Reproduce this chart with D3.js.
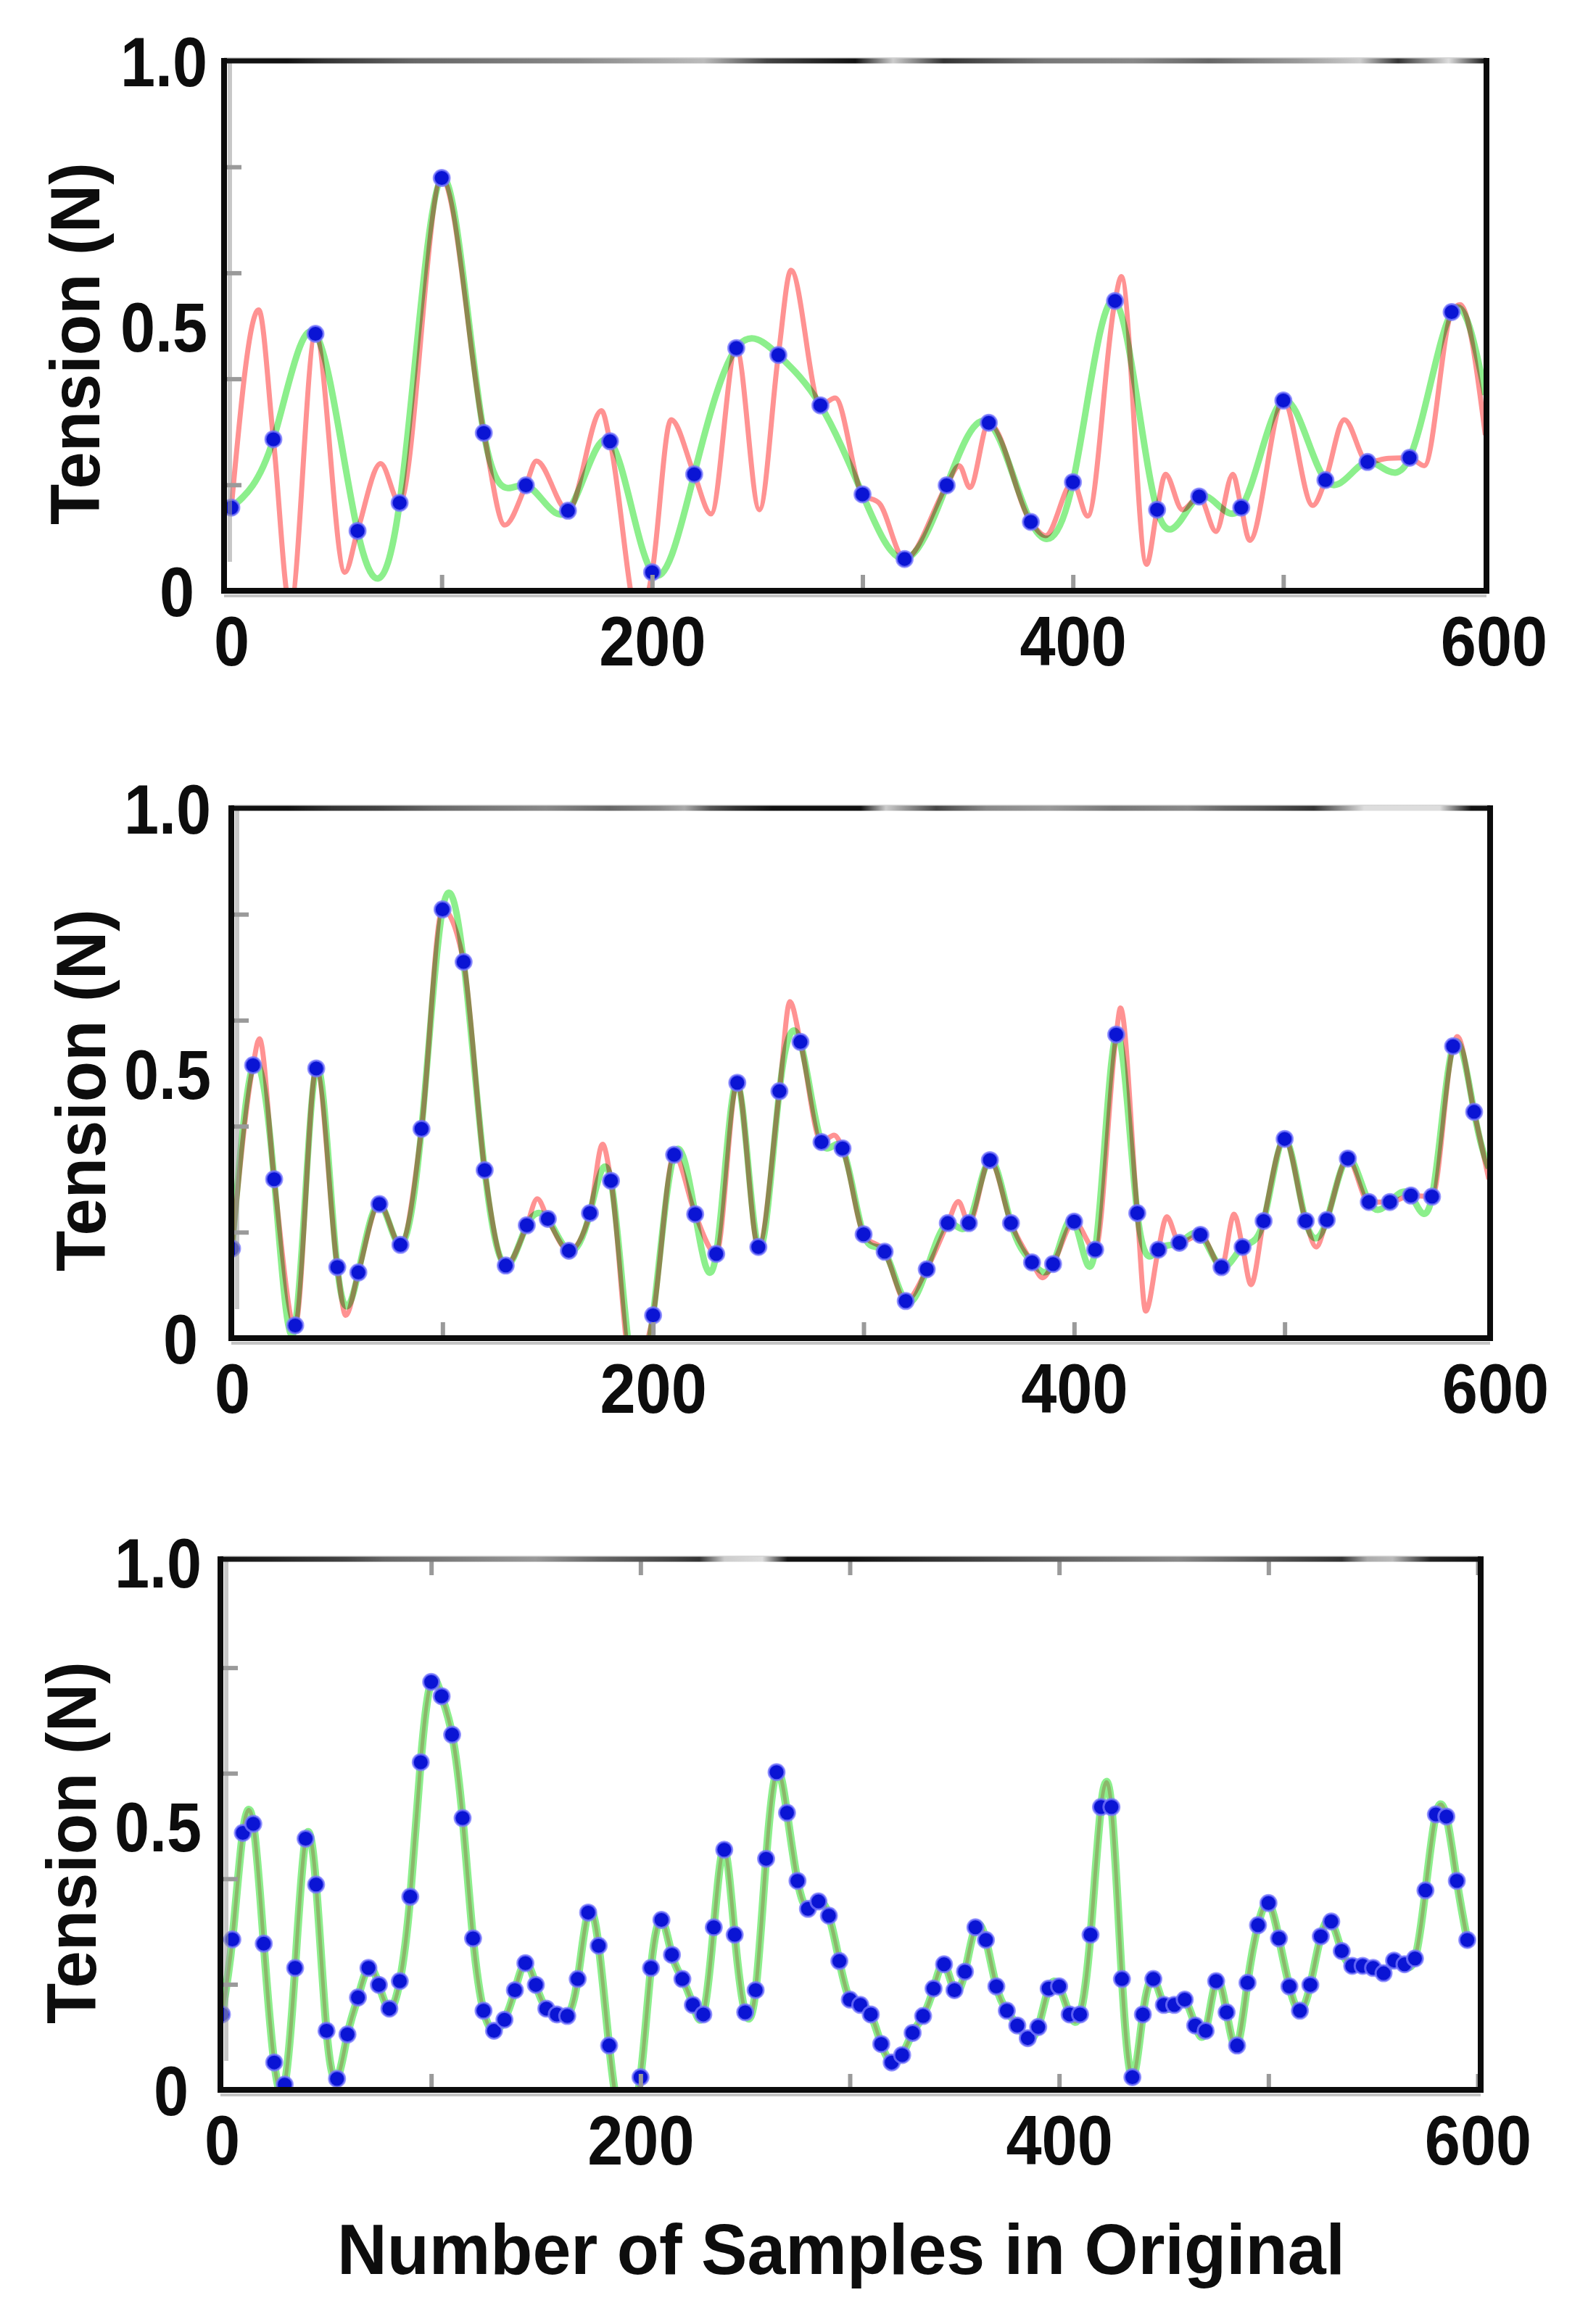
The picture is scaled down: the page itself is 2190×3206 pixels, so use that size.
<!DOCTYPE html>
<html>
<head>
<meta charset="utf-8">
<script src="https://cdn.jsdelivr.net/npm/d3@7"></script>
<style>
  html, body { margin: 0; padding: 0; background: #fff; }
  svg { display: block; }
  text { font-family: "Liberation Sans", Arial, sans-serif; font-weight: bold; fill: #0d0d0d; }
</style>
</head>
<body>
<script>
// tick labels
const xTickLabels = [0, 200, 400, 600];
const yTickLabels = [0, 0.5, 1.0];
const yMinorTicks = [0.2, 0.4, 0.6, 0.8];

// blue samples, one value every 20 / 10 / 5 samples of the original
const samplesEvery20 = [0.157, 0.286, 0.485, 0.113, 0.166, 0.779, 0.298, 0.199, 0.151, 0.282,
  0.035, 0.220, 0.458, 0.445, 0.350, 0.182, 0.060, 0.199, 0.317, 0.130,
  0.205, 0.547, 0.153, 0.178, 0.157, 0.359, 0.209, 0.243, 0.251, 0.526];

const samplesEvery10 = [0.169, 0.515, 0.300, 0.024, 0.509, 0.134, 0.124, 0.253, 0.176, 0.395,
  0.809, 0.710, 0.317, 0.137, 0.213, 0.225, 0.165, 0.236, 0.297, -0.06,
  0.043, 0.346, 0.234, 0.159, 0.482, 0.172, 0.466, 0.559, 0.370, 0.358,
  0.196, 0.163, 0.070, 0.130, 0.217, 0.217, 0.336, 0.217, 0.143, 0.140,
  0.220, 0.167, 0.573, 0.236, 0.167, 0.180, 0.195, 0.134, 0.172, 0.221,
  0.376, 0.221, 0.223, 0.339, 0.257, 0.257, 0.269, 0.267, 0.551, 0.427];

const samplesEvery5 = [0.143, 0.285, 0.487, 0.504, 0.277, 0.052, 0.010, 0.231, 0.476, 0.389,
  0.112, 0.021, 0.105, 0.175, 0.231, 0.199, 0.154, 0.206, 0.366, 0.621,
  0.773, 0.746, 0.673, 0.515, 0.287, 0.150, 0.112, 0.133, 0.189, 0.240,
  0.199, 0.154, 0.143, 0.140, 0.210, 0.336, 0.273, 0.084, -0.05, -0.05,
  0.024, 0.231, 0.322, 0.256, 0.210, 0.161, 0.143, 0.308, 0.455, 0.294,
  0.147, 0.189, 0.438, 0.602, 0.525, 0.396, 0.343, 0.357, 0.330, 0.244,
  0.171, 0.161, 0.143, 0.087, 0.052, 0.066, 0.108, 0.140, 0.192, 0.238,
  0.189, 0.224, 0.308, 0.284, 0.196, 0.150, 0.122, 0.098, 0.119, 0.192,
  0.196, 0.143, 0.143, 0.294, 0.536, 0.536, 0.210, 0.024, 0.143, 0.210,
  0.161, 0.161, 0.171, 0.122, 0.112, 0.206, 0.147, 0.084, 0.203, 0.312,
  0.354, 0.287, 0.196, 0.150, 0.199, 0.291, 0.319, 0.263, 0.235, 0.235,
  0.231, 0.221, 0.245, 0.238, 0.249, 0.378, 0.522, 0.518, 0.396, 0.284];

// red original: peaks and troughs seen between the samples [sample, tension]
const originalPeaks20 = [[13, 0.53], [28, -0.03], [54, 0.035], [71, 0.24], [130, 0.124], [145, 0.245],
  [176, 0.34], [194, -0.06], [209, 0.323], [228, 0.145], [251, 0.153], [266, 0.605], [287, 0.364],
  [308, 0.165], [346, 0.236], [351, 0.195], [387, 0.104], [407, 0.141], [423, 0.593], [435, 0.05],
  [444, 0.22], [452, 0.153], [468, 0.112], [476, 0.22], [484, 0.095], [514, 0.161], [529, 0.323],
  [550, 0.25], [567, 0.236], [584, 0.54], [596, 0.294]];

const originalPeaks10 = [[13, 0.565], [54, 0.043], [145, 0.263], [176, 0.366], [265, 0.635], [286, 0.383],
  [345, 0.258], [385, 0.114], [422, 0.623], [434, 0.051], [444, 0.229], [476, 0.234], [484, 0.101],
  [515, 0.172], [582, 0.569], [597, 0.30]];

// where the green reconstruction meets the right border
const greenEnd20 = [596, 0.37];
const greenEnd10 = [597, 0.321];

// layout of the three stacked panels (pixels)
const panels = [
  { samples: samplesEvery20, step: 20, peaks: originalPeaks20, greenEnd: greenEnd20,
    frame: { left: 309, right: 2050, top: 84, bottom: 815 }, xr: [319, 2060], yr: [815, 84],
    yLabelRight: 286, yTitle: [137, 474], xMinor: [100, 200, 300, 400, 500], topTicks: false,
    topStops: [[0, "#111"], [0.05, "#111"], [0.08, "#333"], [0.15, "#666"], [0.28, "#888"], [0.38, "#bbb"],
      [0.43, "#444"], [0.5, "#111"], [0.53, "#ccc"], [0.57, "#333"], [0.65, "#777"], [0.72, "#888"],
      [0.78, "#666"], [0.85, "#999"], [0.9, "#ccc"], [0.93, "#333"], [0.97, "#ddd"], [1, "#111"]] },
  { samples: samplesEvery10, step: 10, peaks: originalPeaks10, greenEnd: greenEnd10,
    frame: { left: 319, right: 2055, top: 1115, bottom: 1846 }, xr: [320, 2062], yr: [1846, 1115],
    yLabelRight: 291, yTitle: [145, 1504], xMinor: [100, 200, 300, 400, 500], topTicks: false,
    topStops: [[0, "#111"], [0.045, "#111"], [0.08, "#333"], [0.12, "#444"], [0.16, "#666"], [0.2, "#777"],
      [0.25, "#888"], [0.3, "#666"], [0.34, "#888"], [0.36, "#aaa"], [0.38, "#555"], [0.4, "#333"],
      [0.43, "#111"], [0.5, "#111"], [0.52, "#ccc"], [0.56, "#444"], [0.6, "#888"], [0.65, "#999"],
      [0.7, "#777"], [0.76, "#888"], [0.79, "#666"], [0.82, "#555"], [0.86, "#333"], [0.9, "#ddd"],
      [0.96, "#ddd"], [0.985, "#111"], [1, "#111"]] },
  { samples: samplesEvery5, step: 5, peaks: null, greenEnd: null,
    frame: { left: 304, right: 2042, top: 2151, bottom: 2883 }, xr: [306, 2038], yr: [2883, 2155],
    yLabelRight: 278, yTitle: [132, 2542], xMinor: [100, 200, 300, 400, 500, 600], topTicks: true,
    topStops: [[0, "#111"], [0.04, "#222"], [0.1, "#444"], [0.13, "#666"], [0.21, "#888"], [0.25, "#999"],
      [0.3, "#666"], [0.36, "#444"], [0.38, "#333"], [0.4, "#ccc"], [0.43, "#ddd"], [0.45, "#111"],
      [0.5, "#111"], [0.57, "#333"], [0.64, "#555"], [0.72, "#777"], [0.76, "#888"], [0.83, "#555"],
      [0.89, "#333"], [0.91, "#aaa"], [0.93, "#bbb"], [0.96, "#222"], [1, "#111"]] }
];

const W = 2190, H = 3206;
const svg = d3.select("body").append("svg").attr("width", W).attr("height", H);
const defs = svg.append("defs");

function condense(sel, k) {
  sel.each(function () {
    const w = this.getComputedTextLength();
    d3.select(this).attr("textLength", w * k).attr("lengthAdjust", "spacingAndGlyphs");
  });
}

panels.forEach((p, i) => {
  const f = p.frame;
  const x = d3.scaleLinear().domain([0, 600]).range(p.xr);
  const y = d3.scaleLinear().domain([0, 1]).range(p.yr);
  const g = svg.append("g").attr("id", "panel" + (i + 1));

  defs.append("clipPath").attr("id", "clip" + i)
    .append("rect")
    .attr("x", f.left).attr("y", f.top)
    .attr("width", f.right - f.left).attr("height", f.bottom - f.top);

  const pts = p.samples.map((v, k) => [k * p.step, v]);
  const greenPts = p.greenEnd ? pts.concat([p.greenEnd]) : pts;
  const redPts = p.peaks ? pts.concat(p.peaks).sort((a, b) => a[0] - b[0]) : pts;

  const plot = g.append("g").attr("clip-path", `url(#clip${i})`);

  // green reconstruction
  plot.append("path")
    .datum(greenPts)
    .attr("fill", "none")
    .attr("stroke", "#8cef8c")
    .attr("stroke-width", p.peaks ? 9 : 11)
    .attr("d", d3.line().x(d => x(d[0])).y(d => y(d[1])).curve(d3.curveNatural));

  // red original
  plot.append("path")
    .datum(redPts)
    .attr("fill", "none")
    .attr("stroke", "#ff9292")
    .attr("stroke-width", p.peaks ? 7 : 5)
    .attr("stroke-opacity", p.peaks ? 1 : 0.55)
    .style("mix-blend-mode", "multiply")
    .attr("d", d3.line().x(d => x(d[0])).y(d => y(d[1]))
      .curve(p.peaks ? d3.curveMonotoneX : d3.curveNatural));

  // blue samples
  plot.selectAll("circle")
    .data(pts)
    .join("circle")
    .attr("cx", d => x(d[0]))
    .attr("cy", d => y(d[1]))
    .attr("r", 11)
    .attr("fill", "#0a14d4")
    .attr("stroke", "#7b7bff")
    .attr("stroke-opacity", 0.75)
    .attr("stroke-width", 3);

  // minor ticks, grey, pointing inwards
  const styleTicks = sel => {
    sel.select(".domain").remove();
    sel.selectAll("line").attr("stroke", "#9a9a9a").attr("stroke-width", 6);
  };
  g.append("g").attr("transform", `translate(0,${f.bottom})`)
    .call(d3.axisBottom(x).tickValues(p.xMinor).tickSize(-22).tickFormat(""))
    .call(styleTicks);
  if (p.topTicks) {
    g.append("g").attr("transform", `translate(0,${f.top})`)
      .call(d3.axisTop(x).tickValues(p.xMinor).tickSize(-22).tickFormat(""))
      .call(styleTicks);
  }
  g.append("g").attr("transform", `translate(${f.left},0)`)
    .call(d3.axisLeft(y).tickValues(yMinorTicks).tickSize(-24).tickFormat(""))
    .call(styleTicks);

  // frame
  const grad = defs.append("linearGradient").attr("id", "top" + i)
    .attr("gradientUnits", "userSpaceOnUse")
    .attr("x1", f.left).attr("x2", f.right).attr("y1", 0).attr("y2", 0);
  grad.selectAll("stop").data(p.topStops).join("stop")
    .attr("offset", d => d[0]).attr("stop-color", d => d[1]);

  g.append("line").attr("x1", f.left + 8).attr("x2", f.left + 8).attr("y1", f.top).attr("y2", f.bottom - 40)
    .attr("stroke", "#9a9a9a").attr("stroke-opacity", 0.55).attr("stroke-width", 6);
  g.append("line").attr("x1", f.left).attr("x2", f.right).attr("y1", f.bottom + 7).attr("y2", f.bottom + 7)
    .attr("stroke", "#c4c4c4").attr("stroke-width", 4);
  g.append("line").attr("x1", f.left).attr("x2", f.right).attr("y1", f.top - 3).attr("y2", f.top - 3)
    .attr("stroke", "#d6d6d6").attr("stroke-width", 4);
  g.append("line").attr("x1", f.left).attr("x2", f.right).attr("y1", f.top).attr("y2", f.top)
    .attr("stroke", `url(#top${i})`).attr("stroke-width", 7);
  g.append("path")
    .attr("d", `M${f.left},${f.top}V${f.bottom}H${f.right}V${f.top}`)
    .attr("fill", "none").attr("stroke", "#0b0b0b").attr("stroke-width", 8)
    .attr("stroke-linecap", "square");

  // x labels
  const gx = g.append("g").attr("transform", `translate(0,${f.bottom})`)
    .call(d3.axisBottom(x).tickValues(xTickLabels).tickSize(0).tickFormat(d3.format("d")));
  gx.select(".domain").remove();
  gx.attr("font-family", null).attr("font-size", null);
  gx.selectAll("text").attr("y", 103).attr("dy", null).attr("fill", "#0d0d0d")
    .style("font-size", "96px").call(condense, 0.92);

  // y labels
  const gy = g.append("g").attr("transform", `translate(${p.yLabelRight},0)`)
    .call(d3.axisLeft(y).tickValues(yTickLabels).tickSize(0)
      .tickFormat(d => d === 0 ? "0" : d3.format(".1f")(d)));
  gy.select(".domain").remove();
  gy.attr("font-family", null).attr("font-size", null);
  gy.selectAll("text").attr("x", d => d === 0 ? -18 : 0).attr("dy", "0.36em").attr("fill", "#0d0d0d")
    .style("font-size", "96px").call(condense, 0.9);

  // y title
  g.append("text")
    .attr("transform", `translate(${p.yTitle[0]},${p.yTitle[1]}) rotate(-90)`)
    .attr("text-anchor", "middle")
    .style("font-size", "96px")
    .attr("textLength", 500)
    .attr("lengthAdjust", "spacingAndGlyphs")
    .text("Tension (N)");
});

// shared x title
svg.append("text")
  .attr("x", 1160).attr("y", 3137)
  .attr("text-anchor", "middle")
  .style("font-size", "98px")
  .attr("textLength", 1390)
  .attr("lengthAdjust", "spacingAndGlyphs")
  .text("Number of Samples in Original");
</script>
</body>
</html>
